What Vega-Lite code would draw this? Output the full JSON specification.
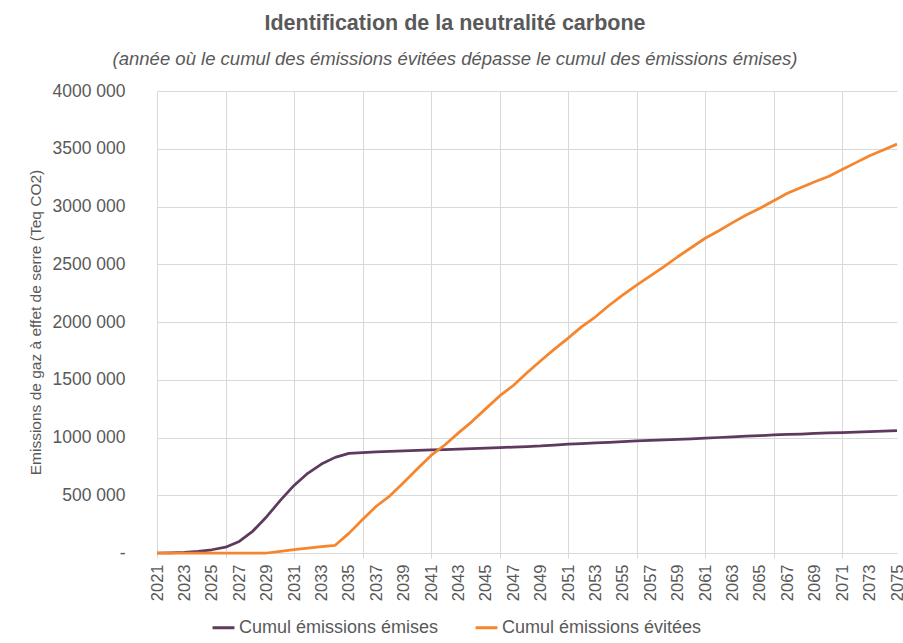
{
  "$schema": "https://vega.github.io/schema/vega-lite/v6.json",
  "width": 740,
  "height": 462,
  "autosize": {"type": "none"},
  "padding": {"left": 157, "top": 91, "right": 6, "bottom": 90},
  "background": "white",
  "config": {
    "font": "Liberation Sans",
    "view": {"stroke": null}
  },
  "title": {
    "text": "Identification de la neutralité carbone",
    "subtitle": "(année où le cumul des émissions évitées dépasse le cumul des émissions émises)",
    "anchor": "middle",
    "dx": -72,
    "offset": 14,
    "fontSize": 21.5,
    "fontWeight": "bold",
    "color": "#595959",
    "subtitleFontSize": 18.5,
    "subtitleFontStyle": "italic",
    "subtitleColor": "#595959",
    "subtitlePadding": 15
  },
  "data": {
    "values": [
      {"year": 2021, "serie": "Cumul émissions émises", "value": 0},
      {"year": 2022, "serie": "Cumul émissions émises", "value": 2000},
      {"year": 2023, "serie": "Cumul émissions émises", "value": 6000},
      {"year": 2024, "serie": "Cumul émissions émises", "value": 15000},
      {"year": 2025, "serie": "Cumul émissions émises", "value": 28000},
      {"year": 2026, "serie": "Cumul émissions émises", "value": 50000},
      {"year": 2027, "serie": "Cumul émissions émises", "value": 100000},
      {"year": 2028, "serie": "Cumul émissions émises", "value": 190000},
      {"year": 2029, "serie": "Cumul émissions émises", "value": 314000},
      {"year": 2030, "serie": "Cumul émissions émises", "value": 455000},
      {"year": 2031, "serie": "Cumul émissions émises", "value": 585000},
      {"year": 2032, "serie": "Cumul émissions émises", "value": 690000},
      {"year": 2033, "serie": "Cumul émissions émises", "value": 770000},
      {"year": 2034, "serie": "Cumul émissions émises", "value": 828000},
      {"year": 2035, "serie": "Cumul émissions émises", "value": 863000},
      {"year": 2036, "serie": "Cumul émissions émises", "value": 870000},
      {"year": 2037, "serie": "Cumul émissions émises", "value": 875000},
      {"year": 2038, "serie": "Cumul émissions émises", "value": 880000},
      {"year": 2039, "serie": "Cumul émissions émises", "value": 885000},
      {"year": 2040, "serie": "Cumul émissions émises", "value": 888000},
      {"year": 2041, "serie": "Cumul émissions émises", "value": 892000},
      {"year": 2042, "serie": "Cumul émissions émises", "value": 895000},
      {"year": 2043, "serie": "Cumul émissions émises", "value": 899000},
      {"year": 2044, "serie": "Cumul émissions émises", "value": 903000},
      {"year": 2045, "serie": "Cumul émissions émises", "value": 908000},
      {"year": 2046, "serie": "Cumul émissions émises", "value": 912000},
      {"year": 2047, "serie": "Cumul émissions émises", "value": 917000},
      {"year": 2048, "serie": "Cumul émissions émises", "value": 922000},
      {"year": 2049, "serie": "Cumul émissions émises", "value": 927000},
      {"year": 2050, "serie": "Cumul émissions émises", "value": 935000},
      {"year": 2051, "serie": "Cumul émissions émises", "value": 943000},
      {"year": 2052, "serie": "Cumul émissions émises", "value": 948000},
      {"year": 2053, "serie": "Cumul émissions émises", "value": 953000},
      {"year": 2054, "serie": "Cumul émissions émises", "value": 958000},
      {"year": 2055, "serie": "Cumul émissions émises", "value": 964000},
      {"year": 2056, "serie": "Cumul émissions émises", "value": 970000},
      {"year": 2057, "serie": "Cumul émissions émises", "value": 975000},
      {"year": 2058, "serie": "Cumul émissions émises", "value": 979000},
      {"year": 2059, "serie": "Cumul émissions émises", "value": 984000},
      {"year": 2060, "serie": "Cumul émissions émises", "value": 989000},
      {"year": 2061, "serie": "Cumul émissions émises", "value": 994000},
      {"year": 2062, "serie": "Cumul émissions émises", "value": 1000000},
      {"year": 2063, "serie": "Cumul émissions émises", "value": 1005000},
      {"year": 2064, "serie": "Cumul émissions émises", "value": 1011000},
      {"year": 2065, "serie": "Cumul émissions émises", "value": 1016000},
      {"year": 2066, "serie": "Cumul émissions émises", "value": 1022000},
      {"year": 2067, "serie": "Cumul émissions émises", "value": 1027000},
      {"year": 2068, "serie": "Cumul émissions émises", "value": 1030000},
      {"year": 2069, "serie": "Cumul émissions émises", "value": 1035000},
      {"year": 2070, "serie": "Cumul émissions émises", "value": 1039000},
      {"year": 2071, "serie": "Cumul émissions émises", "value": 1042000},
      {"year": 2072, "serie": "Cumul émissions émises", "value": 1047000},
      {"year": 2073, "serie": "Cumul émissions émises", "value": 1051000},
      {"year": 2074, "serie": "Cumul émissions émises", "value": 1055000},
      {"year": 2075, "serie": "Cumul émissions émises", "value": 1059000},
      {"year": 2021, "serie": "Cumul émissions évitées", "value": 0},
      {"year": 2022, "serie": "Cumul émissions évitées", "value": 0},
      {"year": 2023, "serie": "Cumul émissions évitées", "value": 0},
      {"year": 2024, "serie": "Cumul émissions évitées", "value": 0},
      {"year": 2025, "serie": "Cumul émissions évitées", "value": 0},
      {"year": 2026, "serie": "Cumul émissions évitées", "value": 0},
      {"year": 2027, "serie": "Cumul émissions évitées", "value": 0},
      {"year": 2028, "serie": "Cumul émissions évitées", "value": 0},
      {"year": 2029, "serie": "Cumul émissions évitées", "value": 0},
      {"year": 2030, "serie": "Cumul émissions évitées", "value": 14000},
      {"year": 2031, "serie": "Cumul émissions évitées", "value": 29000},
      {"year": 2032, "serie": "Cumul émissions évitées", "value": 42000},
      {"year": 2033, "serie": "Cumul émissions évitées", "value": 55000},
      {"year": 2034, "serie": "Cumul émissions évitées", "value": 67000},
      {"year": 2035, "serie": "Cumul émissions évitées", "value": 170000},
      {"year": 2036, "serie": "Cumul émissions évitées", "value": 290000},
      {"year": 2037, "serie": "Cumul émissions évitées", "value": 405000},
      {"year": 2038, "serie": "Cumul émissions évitées", "value": 495000},
      {"year": 2039, "serie": "Cumul émissions évitées", "value": 610000},
      {"year": 2040, "serie": "Cumul émissions évitées", "value": 730000},
      {"year": 2041, "serie": "Cumul émissions évitées", "value": 845000},
      {"year": 2042, "serie": "Cumul émissions évitées", "value": 935000},
      {"year": 2043, "serie": "Cumul émissions évitées", "value": 1040000},
      {"year": 2044, "serie": "Cumul émissions évitées", "value": 1140000},
      {"year": 2045, "serie": "Cumul émissions évitées", "value": 1250000},
      {"year": 2046, "serie": "Cumul émissions évitées", "value": 1360000},
      {"year": 2047, "serie": "Cumul émissions évitées", "value": 1450000},
      {"year": 2048, "serie": "Cumul émissions évitées", "value": 1560000},
      {"year": 2049, "serie": "Cumul émissions évitées", "value": 1665000},
      {"year": 2050, "serie": "Cumul émissions évitées", "value": 1765000},
      {"year": 2051, "serie": "Cumul émissions évitées", "value": 1860000},
      {"year": 2052, "serie": "Cumul émissions évitées", "value": 1960000},
      {"year": 2053, "serie": "Cumul émissions évitées", "value": 2045000},
      {"year": 2054, "serie": "Cumul émissions évitées", "value": 2145000},
      {"year": 2055, "serie": "Cumul émissions évitées", "value": 2235000},
      {"year": 2056, "serie": "Cumul émissions évitées", "value": 2320000},
      {"year": 2057, "serie": "Cumul émissions évitées", "value": 2400000},
      {"year": 2058, "serie": "Cumul émissions évitées", "value": 2480000},
      {"year": 2059, "serie": "Cumul émissions évitées", "value": 2565000},
      {"year": 2060, "serie": "Cumul émissions évitées", "value": 2645000},
      {"year": 2061, "serie": "Cumul émissions évitées", "value": 2725000},
      {"year": 2062, "serie": "Cumul émissions évitées", "value": 2790000},
      {"year": 2063, "serie": "Cumul émissions évitées", "value": 2860000},
      {"year": 2064, "serie": "Cumul émissions évitées", "value": 2926000},
      {"year": 2065, "serie": "Cumul émissions évitées", "value": 2985000},
      {"year": 2066, "serie": "Cumul émissions évitées", "value": 3050000},
      {"year": 2067, "serie": "Cumul émissions évitées", "value": 3114000},
      {"year": 2068, "serie": "Cumul émissions évitées", "value": 3165000},
      {"year": 2069, "serie": "Cumul émissions évitées", "value": 3215000},
      {"year": 2070, "serie": "Cumul émissions évitées", "value": 3260000},
      {"year": 2071, "serie": "Cumul émissions évitées", "value": 3320000},
      {"year": 2072, "serie": "Cumul émissions évitées", "value": 3380000},
      {"year": 2073, "serie": "Cumul émissions évitées", "value": 3440000},
      {"year": 2074, "serie": "Cumul émissions évitées", "value": 3490000},
      {"year": 2075, "serie": "Cumul émissions évitées", "value": 3540000}
    ]
  },
  "layer": [
    {
      "mark": {"type": "rule", "strokeOpacity": 0},
      "encoding": {
        "x": {
          "field": "year",
          "type": "quantitative",
          "scale": {"domain": [2021, 2075], "nice": false, "zero": false},
          "axis": {
            "orient": "bottom",
            "values": [2021, 2026, 2031, 2036, 2041, 2046, 2051, 2056, 2061, 2066, 2071],
            "labels": false,
            "title": null,
            "domain": false,
            "grid": true,
            "gridColor": "#D9D9D9",
            "gridWidth": 1,
            "ticks": true,
            "tickSize": 5,
            "tickColor": "#D9D9D9"
          }
        }
      }
    },
    {
      "mark": {"type": "line", "strokeWidth": 2.75, "strokeJoin": "round"},
      "encoding": {
        "x": {
          "field": "year",
          "type": "quantitative",
          "scale": {"domain": [2021, 2075], "nice": false, "zero": false},
          "axis": {
            "orient": "bottom",
            "values": [2021, 2023, 2025, 2027, 2029, 2031, 2033, 2035, 2037, 2039, 2041, 2043, 2045, 2047, 2049, 2051, 2053, 2055, 2057, 2059, 2061, 2063, 2065, 2067, 2069, 2071, 2073, 2075],
            "format": "d",
            "labelAngle": -90,
            "labelFontSize": 16.5,
            "labelColor": "#595959",
            "labelPadding": 11,
            "labelOverlap": false,
            "labelFlush": false,
            "title": null,
            "grid": false,
            "ticks": false,
            "domain": true,
            "domainColor": "#D9D9D9",
            "domainWidth": 1
          }
        },
        "y": {
          "field": "value",
          "type": "quantitative",
          "scale": {"domain": [0, 4000000], "nice": false},
          "axis": {
            "values": [0, 500000, 1000000, 1500000, 2000000, 2500000, 3000000, 3500000, 4000000],
            "labelExpr": "datum.value == 0 ? '-\u00a0\u00a0' : floor(datum.value / 1000) + ' 000'",
            "labelFontSize": 17.5,
            "labelColor": "#595959",
            "labelPadding": 32,
            "title": "Emissions de gaz à effet de serre (Teq CO2)",
            "titleFontSize": 15.5,
            "titleFontWeight": "normal",
            "titleColor": "#595959",
            "titlePadding": 9,
            "grid": true,
            "gridColor": "#D9D9D9",
            "gridWidth": 1,
            "ticks": false,
            "domain": false
          }
        },
        "color": {
          "field": "serie",
          "type": "nominal",
          "scale": {
            "domain": ["Cumul émissions émises", "Cumul émissions évitées"],
            "range": ["#5E3A5F", "#F5862E"]
          },
          "legend": {
            "title": null,
            "orient": "none",
            "direction": "horizontal",
            "legendX": 54,
            "legendY": 524,
            "symbolType": "stroke",
            "symbolSize": 480,
            "symbolStrokeWidth": 3,
            "labelFontSize": 18,
            "labelLimit": 0,
            "labelColor": "#595959",
            "labelOffset": 3,
            "columnPadding": 30
          }
        }
      }
    }
  ],
  "resolve": {"axis": {"x": "independent"}}
}
